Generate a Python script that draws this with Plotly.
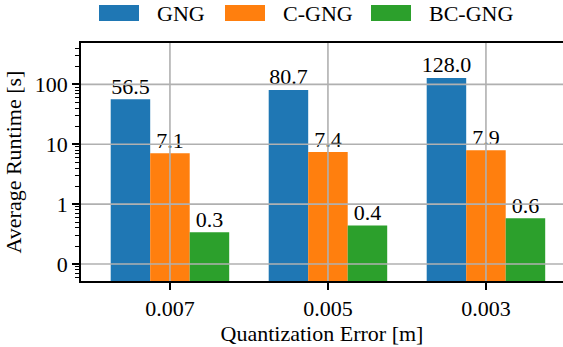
import plotly.graph_objects as go

# ---- data ----
categories = ["0.007", "0.005", "0.003"]
series_names = ["GNG", "C-GNG", "BC-GNG"]
gng = [56.5, 80.7, 128.0]
c_gng = [7.1, 7.4, 7.9]
bc_gng = [0.34, 0.44, 0.58]
y_tickvals = [0.1, 1, 10, 100]
y_ticktext = ["0", "1", "10", "100"]

colors = ["#1f77b4", "#ff7f0e", "#2ca02c"]
FONT = "Liberation Serif"
FS = 22

W, H = 563, 347
ML, MR, MT, MB = 81, 0, 43, 66
PW, PH = W - ML - MR, H - MT - MB

def px_x(p):
    return (p - ML) / PW

def px_y(p):
    return (H - MB - p) / PH

fig = go.Figure()
for name, vals, col in zip(series_names, [gng, c_gng, bc_gng], colors):
    fig.add_trace(go.Bar(
        x=categories, y=vals, name=name, marker=dict(color=col, line=dict(width=0)),
        offsetgroup=name, showlegend=False,
    ))
# value labels, grouped like the bars
for name, vals in zip(series_names, [gng, c_gng, bc_gng]):
    fig.add_trace(go.Scatter(
        x=categories, y=vals, mode="text", offsetgroup=name,
        text=[f"{v:.1f}" for v in vals], textposition="top center",
        textfont=dict(family=FONT, size=FS, color="black"),
        cliponaxis=False, showlegend=False, hoverinfo="skip",
    ))

minor_vals = [m * 10 ** e for e in range(-2, 3) for m in range(2, 10)]

fig.update_layout(
    width=W, height=H,
    margin=dict(l=ML, r=MR, t=MT, b=MB, pad=0),
    paper_bgcolor="white", plot_bgcolor="white",
    barmode="group", bargap=0.25, bargroupgap=0,
    scattermode="group", scattergap=0.25,
    font=dict(family=FONT, size=FS, color="black"),
    xaxis=dict(
        type="category", range=[-0.563, -0.563 + PW / 158.0],
        showline=True, linecolor="black", linewidth=1.6, mirror=True,
        ticks="outside", ticklen=7, tickwidth=1.6, tickcolor="black",
        showgrid=False, zeroline=False,
        title=dict(text="Quantization Error [m]", standoff=2, font=dict(size=FS)),
        tickfont=dict(size=FS),
    ),
    yaxis=dict(
        type="log", range=[-1.283, 2.69],
        tickmode="array", tickvals=y_tickvals, ticktext=y_ticktext,
        showline=True, linecolor="black", linewidth=1.6, mirror=False,
        ticks="outside", ticklen=7, tickwidth=1.6, tickcolor="black",
        minor=dict(tickmode="array", tickvals=minor_vals, ticks="outside",
                   ticklen=4, tickwidth=1.2, tickcolor="black", showgrid=False),
        showgrid=False, zeroline=False,
        title=dict(text="Average Runtime [s]", standoff=7, font=dict(size=FS)),
        tickfont=dict(size=FS),
    ),
)

shapes = []
# grid lines drawn above bars
for i, c in enumerate(categories):
    shapes.append(dict(type="line", xref="x", yref="paper", x0=i, x1=i, y0=0, y1=1,
                       line=dict(color="#b0b0b0", width=1.6), layer="above"))
for v in y_tickvals:
    shapes.append(dict(type="line", xref="paper", yref="y", x0=0, x1=1, y0=v, y1=v,
                       line=dict(color="#b0b0b0", width=1.6), layer="above"))

# custom legend (matplotlib-style wide patches)
legend_x = [99, 225, 371]
annotations = []
for name, col, lx in zip(series_names, colors, legend_x):
    shapes.append(dict(type="rect", xref="paper", yref="paper",
                       x0=px_x(lx), x1=px_x(lx + 40), y0=px_y(21), y1=px_y(5),
                       fillcolor=col, line=dict(width=0), layer="above"))
    annotations.append(dict(text=name, xref="paper", yref="paper",
                            x=px_x(lx + 56), y=px_y(13), xanchor="left", yanchor="middle",
                            showarrow=False, font=dict(family=FONT, size=FS, color="black")))

fig.update_layout(shapes=shapes, annotations=annotations)
fig.write_html("out.html")
